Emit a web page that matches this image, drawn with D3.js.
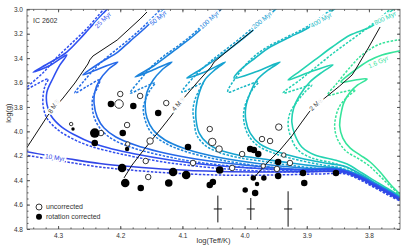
<!DOCTYPE html>
<html>
<head>
<meta charset="utf-8">
<script src="https://cdn.jsdelivr.net/npm/d3@7"></script>
<style>
body { margin: 0; background: #fff; }
text { font-family: "Liberation Sans", Arial, sans-serif; }
</style>
</head>
<body>
<svg id="chart" width="407" height="252"></svg>
<script>
// isochrones: [log Teff, log g], solid = non-rotating, dashed = rotating
var iso10 = [[4.361,4.157],[4.321,4.194],[4.281,4.227],[4.233,4.263],[4.184,4.288],[4.120,4.313],[4.040,4.329],[3.959,4.333],[3.879,4.329],[3.838,4.333],[3.814,4.382],[3.790,4.448],[3.766,4.513],[3.747,4.570]];
var iso10d = [[4.361,4.186],[4.321,4.222],[4.281,4.255],[4.233,4.292],[4.184,4.317],[4.120,4.341],[4.040,4.358],[3.959,4.358],[3.879,4.349],[3.838,4.349],[3.814,4.398],[3.790,4.464],[3.766,4.530],[3.747,4.579]];

var iso25 = [[4.215,2.965],[4.249,3.153],[4.265,3.243],[4.286,3.350],[4.313,3.436],[4.340,3.514],[4.313,3.460],[4.286,3.374],[4.297,3.456],[4.308,3.563],[4.318,3.678],[4.318,3.776],[4.311,3.874],[4.294,3.965],[4.273,4.030],[4.245,4.096],[4.213,4.145],[4.176,4.186],[4.120,4.235],[4.056,4.276],[3.991,4.300],[3.911,4.317],[3.847,4.317],[3.814,4.374],[3.790,4.439],[3.766,4.505],[3.747,4.562]];
var iso25d = [[4.221,2.965],[4.253,3.153],[4.281,3.292],[4.303,3.399],[4.323,3.514],[4.350,3.637],[4.361,3.686],[4.337,3.620],[4.316,3.571],[4.321,3.628],[4.324,3.702],[4.324,3.793],[4.318,3.891],[4.302,3.981],[4.279,4.055],[4.249,4.120],[4.213,4.169],[4.176,4.210],[4.120,4.259],[4.056,4.296],[3.991,4.321],[3.911,4.333],[3.847,4.333],[3.814,4.390],[3.790,4.456],[3.766,4.521],[3.747,4.570]];

var iso50 = [[4.123,2.965],[4.160,3.153],[4.184,3.260],[4.204,3.350],[4.233,3.440],[4.260,3.538],[4.233,3.485],[4.204,3.432],[4.220,3.497],[4.233,3.579],[4.241,3.678],[4.242,3.776],[4.237,3.883],[4.226,3.973],[4.207,4.046],[4.176,4.112],[4.136,4.169],[4.088,4.218],[4.031,4.259],[3.967,4.292],[3.903,4.313],[3.847,4.313],[3.814,4.370],[3.790,4.435],[3.766,4.501],[3.747,4.558]];
var iso50d = [[4.128,2.965],[4.165,3.153],[4.189,3.260],[4.213,3.358],[4.237,3.465],[4.257,3.579],[4.273,3.686],[4.252,3.628],[4.233,3.579],[4.237,3.645],[4.244,3.719],[4.245,3.801],[4.241,3.899],[4.229,3.997],[4.210,4.071],[4.179,4.137],[4.136,4.194],[4.088,4.243],[4.031,4.280],[3.967,4.308],[3.903,4.329],[3.847,4.329],[3.814,4.386],[3.790,4.452],[3.766,4.517],[3.747,4.570]];

var iso100 = [[4.031,2.965],[4.077,3.194],[4.101,3.292],[4.125,3.383],[4.149,3.473],[4.176,3.555],[4.149,3.501],[4.117,3.432],[4.133,3.497],[4.147,3.579],[4.157,3.678],[4.160,3.784],[4.157,3.891],[4.147,3.989],[4.128,4.071],[4.099,4.137],[4.059,4.194],[4.007,4.243],[3.951,4.280],[3.895,4.304],[3.847,4.308],[3.814,4.366],[3.790,4.431],[3.766,4.497],[3.747,4.554]];
var iso100d = [[4.036,2.965],[4.081,3.194],[4.105,3.292],[4.130,3.383],[4.152,3.481],[4.168,3.579],[4.184,3.686],[4.165,3.645],[4.144,3.604],[4.152,3.661],[4.159,3.735],[4.163,3.809],[4.160,3.907],[4.151,4.005],[4.131,4.087],[4.102,4.153],[4.062,4.210],[4.011,4.259],[3.954,4.296],[3.895,4.321],[3.847,4.325],[3.814,4.382],[3.790,4.448],[3.766,4.513],[3.747,4.566]];

var iso200 = [[3.943,2.965],[3.988,3.178],[4.020,3.309],[4.051,3.424],[4.072,3.497],[4.093,3.563],[4.064,3.514],[4.031,3.432],[4.048,3.497],[4.064,3.579],[4.073,3.686],[4.078,3.801],[4.078,3.907],[4.073,4.014],[4.060,4.096],[4.040,4.153],[4.007,4.198],[3.970,4.227],[3.927,4.259],[3.879,4.288],[3.847,4.304],[3.814,4.362],[3.790,4.427],[3.766,4.493],[3.747,4.550]];
var iso200d = [[3.948,2.965],[3.993,3.178],[4.025,3.309],[4.056,3.432],[4.080,3.546],[4.101,3.678],[4.085,3.645],[4.067,3.604],[4.073,3.661],[4.080,3.743],[4.083,3.825],[4.081,3.924],[4.077,4.030],[4.064,4.112],[4.043,4.169],[4.011,4.214],[3.974,4.243],[3.930,4.276],[3.882,4.304],[3.847,4.321],[3.814,4.378],[3.790,4.444],[3.766,4.509],[3.747,4.562]];

var iso400 = [[3.847,2.965],[3.898,3.153],[3.927,3.227],[3.959,3.309],[3.983,3.399],[4.007,3.497],[4.017,3.563],[3.983,3.514],[3.943,3.432],[3.962,3.497],[3.980,3.579],[3.991,3.686],[3.998,3.801],[3.998,3.907],[3.991,4.014],[3.975,4.104],[3.946,4.169],[3.911,4.218],[3.871,4.259],[3.838,4.288],[3.811,4.358],[3.785,4.439],[3.766,4.489],[3.747,4.546]];
var iso400d = [[3.851,2.965],[3.903,3.153],[3.932,3.227],[3.966,3.317],[3.991,3.415],[4.011,3.538],[4.027,3.678],[4.003,3.637],[3.978,3.596],[3.988,3.661],[3.996,3.743],[4.001,3.825],[4.001,3.924],[3.994,4.030],[3.978,4.120],[3.949,4.186],[3.914,4.235],[3.874,4.276],[3.842,4.304],[3.814,4.370],[3.788,4.448],[3.766,4.505],[3.747,4.558]];

var iso800 = [[3.753,2.965],[3.795,3.137],[3.830,3.211],[3.859,3.309],[3.887,3.415],[3.911,3.506],[3.930,3.579],[3.895,3.514],[3.858,3.456],[3.875,3.514],[3.895,3.596],[3.911,3.702],[3.921,3.809],[3.924,3.924],[3.919,4.030],[3.908,4.128],[3.887,4.194],[3.855,4.235],[3.835,4.268],[3.811,4.341],[3.785,4.423],[3.766,4.480],[3.747,4.538]];
var iso800d = [[3.758,2.965],[3.790,3.104],[3.822,3.227],[3.855,3.350],[3.887,3.481],[3.911,3.579],[3.938,3.686],[3.914,3.653],[3.892,3.620],[3.903,3.678],[3.916,3.760],[3.927,3.850],[3.930,3.948],[3.925,4.055],[3.914,4.153],[3.892,4.218],[3.858,4.259],[3.838,4.292],[3.814,4.358],[3.787,4.439],[3.766,4.497],[3.747,4.550]];

var iso1600 = [[3.742,3.333],[3.779,3.374],[3.801,3.424],[3.822,3.497],[3.845,3.596],[3.822,3.579],[3.803,3.571],[3.818,3.620],[3.830,3.678],[3.840,3.760],[3.845,3.858],[3.847,3.956],[3.842,4.055],[3.830,4.137],[3.814,4.194],[3.798,4.251],[3.782,4.333],[3.766,4.431],[3.747,4.530]];
var iso1600d = [[3.742,3.243],[3.782,3.284],[3.811,3.374],[3.834,3.497],[3.851,3.604],[3.866,3.702],[3.843,3.678],[3.822,3.661],[3.835,3.719],[3.847,3.793],[3.853,3.874],[3.855,3.973],[3.850,4.071],[3.837,4.161],[3.819,4.218],[3.801,4.276],[3.784,4.358],[3.766,4.448],[3.747,4.538]];

var isoAges = ["10 Myr", "25 Myr", "50 Myr", "100 Myr", "200 Myr", "400 Myr", "800 Myr", "1.6 Gyr"];
var isoSolid = [iso10, iso25, iso50, iso100, iso200, iso400, iso800, iso1600];
var isoDashed = [iso10d, iso25d, iso50d, iso100d, iso200d, iso400d, iso800d, iso1600d];
var isoLabelAt = [[4.305,4.214],[4.228,3.088],[4.139,3.071],[4.057,3.088],[3.972,3.088],[3.877,3.088],[3.774,3.071],[3.785,3.432]];

// evolutionary tracks
var trackMass = ["8", "4", "2"];
var track8 = [[4.358,4.194],[4.337,4.030],[4.316,3.866],[4.292,3.727],[4.273,3.604],[4.252,3.448],[4.249,3.415],[4.244,3.383],[4.205,3.252],[4.168,3.079],[4.157,3.022]];
var track4 = [[4.194,4.382],[4.181,4.276],[4.160,4.137],[4.136,3.989],[4.117,3.866],[4.099,3.735],[4.077,3.604],[4.054,3.473],[4.049,3.432],[4.020,3.309],[3.986,3.170]];
var track2 = [[3.988,4.398],[3.967,4.276],[3.943,4.153],[3.924,4.038],[3.908,3.924],[3.895,3.834],[3.871,3.727],[3.847,3.628],[3.827,3.538],[3.822,3.497],[3.801,3.317],[3.782,3.145]];
var tracks = [track8, track4, track2];
var trackLabelAt = [[4.307,3.793],[4.107,3.776],[3.885,3.776]];

// stars
var openT = [4.279,4.231,4.200,4.202,4.189,4.188,4.168,4.126,4.152,4.159,4.155,4.083,4.056,4.052,4.041,4.020,4.004,3.972,3.959,3.945,3.937,3.927,3.970,3.948];
var openG = [3.940,4.014,3.694,3.776,3.948,4.104,3.710,3.768,4.079,4.243,4.374,4.259,3.981,4.087,4.145,4.300,4.186,4.063,4.079,3.965,4.194,4.259,4.284,4.308];
var openW = [1,3,3,6,3,2,3,3,4,3,3,3,3,5,4,3,3,3,3,4,2,3,2,3];
var fillT = [4.276,4.241,4.241,4.215,4.196,4.189,4.179,4.139,4.197,4.192,4.167,4.122,4.091,4.115,4.094,4.040,4.056,4.051,3.999,3.983,3.991,3.985,3.978,3.986,3.980,3.969,3.946,3.946,3.906,3.904,3.853];
var fillG = [3.981,4.014,4.096,3.776,4.014,4.145,3.793,3.850,4.300,4.423,4.464,4.423,4.128,4.333,4.358,4.317,4.439,4.415,4.480,4.505,4.145,4.153,4.186,4.382,4.431,4.382,4.251,4.366,4.341,4.423,4.341];
var fillW = [1,7,4,4,4,2,4,4,6,6,4,5,4,6,6,5,4,4,3,4,4,4,4,3,2,3,4,4,4,4,4];

// typical errors
var errT = [4.043, 3.990, 3.930];
var errG = [4.636, 4.636, 4.636];
var errDT = [0.0065, 0.0065, 0.0065];
var errDG = [0.11, 0.09, 0.145];

var xTicks = [4.3, 4.2, 4.1, 4.0, 3.9, 3.8];
var yTicks = [3.0, 3.2, 3.4, 3.6, 3.8, 4.0, 4.2, 4.4, 4.6, 4.8];

var padL = 27, padR = 400, padT = 9.3, padB = 229;

var x = d3.scaleLinear().domain([4.35, 3.75]).range([padL, padR]);
var y = d3.scaleLinear().domain([3.0, 4.8]).range([padT, padB]);
var r = d3.scaleLinear().domain([0, 7]).range([1.2, 4.8]);

var color = d3.scaleOrdinal()
    .domain(isoAges)
    .range(["#3246e6", "#3050f0", "#2668e8", "#1c84dc", "#17a2d2", "#18b8c4", "#24d3b1", "#36e49b"]);

var svg = d3.select("#chart");

svg.append("clipPath").attr("id", "clip")
  .append("rect")
    .attr("x", padL).attr("y", padT)
    .attr("width", padR - padL).attr("height", padB - padT);

var plot = svg.append("g").attr("clip-path", "url(#clip)");

var line = d3.line()
    .x(function(d) { return x(d[0]); })
    .y(function(d) { return y(d[1]); })
    .curve(d3.curveCatmullRom.alpha(0.5));

// oldest first so the young blue ones lie on top
for (var i = isoAges.length - 1; i >= 0; i--) {
  plot.append("path")
    .datum(isoDashed[i])
    .attr("d", line)
    .attr("fill", "none")
    .attr("stroke", color(isoAges[i]))
    .attr("stroke-width", 1.5)
    .attr("stroke-dasharray", "2.5,1.5");
  plot.append("path")
    .datum(isoSolid[i])
    .attr("d", line)
    .attr("fill", "none")
    .attr("stroke", color(isoAges[i]))
    .attr("stroke-width", 1.6);
}

var trackLine = d3.line()
    .x(function(d) { return x(d[0]); })
    .y(function(d) { return y(d[1]); });

plot.selectAll(".track")
    .data(tracks)
  .enter().append("path")
    .attr("class", "track")
    .attr("d", trackLine)
    .attr("fill", "none")
    .attr("stroke", "#111")
    .attr("stroke-width", 1);

// isochrone labels
var isoAngle = [9, -45, -40, -42, -40, -30, -25, -25];
plot.selectAll(".isolab")
    .data(isoAges)
  .enter().append("text")
    .attr("class", "isolab")
    .attr("transform", function(d, i) {
      return "translate(" + x(isoLabelAt[i][0]) + "," + y(isoLabelAt[i][1]) + ") rotate(" + isoAngle[i] + ")";
    })
    .attr("text-anchor", "middle")
    .attr("dy", "0.35em")
    .attr("font-size", 6.5)
    .attr("fill", function(d) { return color(d); })
    .attr("stroke", "#fff")
    .attr("stroke-width", 3)
    .attr("paint-order", "stroke")
    .text(function(d) { return d; });

// mass labels
var trackAngle = [-58, -50, -45];
var mlab = plot.selectAll(".mlab")
    .data(trackMass)
  .enter().append("text")
    .attr("class", "mlab")
    .attr("transform", function(d, i) {
      return "translate(" + x(trackLabelAt[i][0]) + "," + y(trackLabelAt[i][1]) + ") rotate(" + trackAngle[i] + ")";
    })
    .attr("text-anchor", "middle")
    .attr("dy", "0.35em")
    .attr("font-size", 6.5)
    .attr("fill", "#333")
    .attr("stroke", "#fff")
    .attr("stroke-width", 3)
    .attr("paint-order", "stroke")
    .text(function(d) { return d + " M"; });
mlab.append("tspan")
    .attr("fill", "#c8c8c8")
    .attr("font-size", 5.5)
    .text("\u2609");

// error crosses
var errs = d3.range(errT.length);
var eg = svg.append("g").attr("stroke", "#111").attr("stroke-width", 1);
eg.selectAll(".ev").data(errs).enter().append("line")
    .attr("x1", function(i) { return x(errT[i]); })
    .attr("x2", function(i) { return x(errT[i]); })
    .attr("y1", function(i) { return y(errG[i] - errDG[i]); })
    .attr("y2", function(i) { return y(errG[i] + errDG[i]); });
eg.selectAll(".eh").data(errs).enter().append("line")
    .attr("x1", function(i) { return x(errT[i] + errDT[i]); })
    .attr("x2", function(i) { return x(errT[i] - errDT[i]); })
    .attr("y1", function(i) { return y(errG[i]); })
    .attr("y2", function(i) { return y(errG[i]); });

// stars
svg.append("g").selectAll("circle")
    .data(d3.range(openT.length))
  .enter().append("circle")
    .attr("cx", function(i) { return x(openT[i]); })
    .attr("cy", function(i) { return y(openG[i]); })
    .attr("r", function(i) { return r(openW[i]); })
    .attr("fill", "#fff")
    .attr("stroke", "#222")
    .attr("stroke-width", 0.9);

svg.append("g").selectAll("circle")
    .data(d3.range(fillT.length))
  .enter().append("circle")
    .attr("cx", function(i) { return x(fillT[i]); })
    .attr("cy", function(i) { return y(fillG[i]); })
    .attr("r", function(i) { return r(fillW[i]); })
    .attr("fill", "#000");

// axes, ticks inward on all four sides
var fmt = d3.format(".1f");
var xMinor = d3.range(188, 218).map(function(k) { return k / 50; });
var yMinor = d3.range(60, 97).map(function(k) { return k / 20; });

function clean(g) {
  g.select(".domain").remove();
  g.selectAll("line").attr("stroke", "#555");
  g.selectAll("text").attr("fill", "#333").attr("font-size", 6.5)
    .attr("font-family", "Liberation Sans, Arial, sans-serif");
}

svg.append("g").attr("transform", "translate(0," + padB + ")")
  .call(d3.axisBottom(x).tickValues(xMinor).tickSizeInner(-1.5).tickFormat("")).call(clean);
svg.append("g").attr("transform", "translate(0," + padB + ")")
  .call(d3.axisBottom(x).tickValues(xTicks).tickSizeInner(-3).tickPadding(4).tickFormat(fmt)).call(clean);
svg.append("g").attr("transform", "translate(0," + padT + ")")
  .call(d3.axisTop(x).tickValues(xMinor).tickSizeInner(-1.5).tickFormat("")).call(clean);
svg.append("g").attr("transform", "translate(0," + padT + ")")
  .call(d3.axisTop(x).tickValues(xTicks).tickSizeInner(-3).tickFormat("")).call(clean);

svg.append("g").attr("transform", "translate(" + padL + ",0)")
  .call(d3.axisLeft(y).tickValues(yMinor).tickSizeInner(-1.5).tickFormat("")).call(clean);
svg.append("g").attr("transform", "translate(" + padL + ",0)")
  .call(d3.axisLeft(y).tickValues(yTicks).tickSizeInner(-3).tickPadding(4).tickFormat(fmt)).call(clean);
svg.append("g").attr("transform", "translate(" + padR + ",0)")
  .call(d3.axisRight(y).tickValues(yMinor).tickSizeInner(-1.5).tickFormat("")).call(clean);
svg.append("g").attr("transform", "translate(" + padR + ",0)")
  .call(d3.axisRight(y).tickValues(yTicks).tickSizeInner(-3).tickFormat("")).call(clean);

svg.append("rect")
    .attr("x", padL).attr("y", padT)
    .attr("width", padR - padL).attr("height", padB - padT)
    .attr("fill", "none")
    .attr("stroke", "#555")
    .attr("stroke-width", 0.8);

svg.append("text")
    .attr("x", (padL + padR) / 2).attr("y", 243)
    .attr("text-anchor", "middle")
    .attr("font-size", 7.5).attr("fill", "#333")
    .text("log(Teff/K)");

svg.append("text")
    .attr("transform", "translate(11," + y(3.85) + ") rotate(-90)")
    .attr("text-anchor", "middle")
    .attr("font-size", 7.5).attr("fill", "#333")
    .text("log(g)");

svg.append("text")
    .attr("x", 33).attr("y", 22.5)
    .attr("font-size", 7).attr("fill", "#333")
    .text("IC 2602");

// legend
var legend = svg.append("g");
legend.append("circle").attr("cx", 39).attr("cy", y(4.62)).attr("r", 3)
    .attr("fill", "#fff").attr("stroke", "#222").attr("stroke-width", 0.9);
legend.append("circle").attr("cx", 39).attr("cy", y(4.70)).attr("r", 3)
    .attr("fill", "#000");
legend.append("text").attr("x", 46).attr("y", y(4.62)).attr("dy", "0.35em")
    .attr("font-size", 7).attr("fill", "#333").text("uncorrected");
legend.append("text").attr("x", 46).attr("y", y(4.70)).attr("dy", "0.35em")
    .attr("font-size", 7).attr("fill", "#333").text("rotation corrected");
</script>
</body>
</html>
